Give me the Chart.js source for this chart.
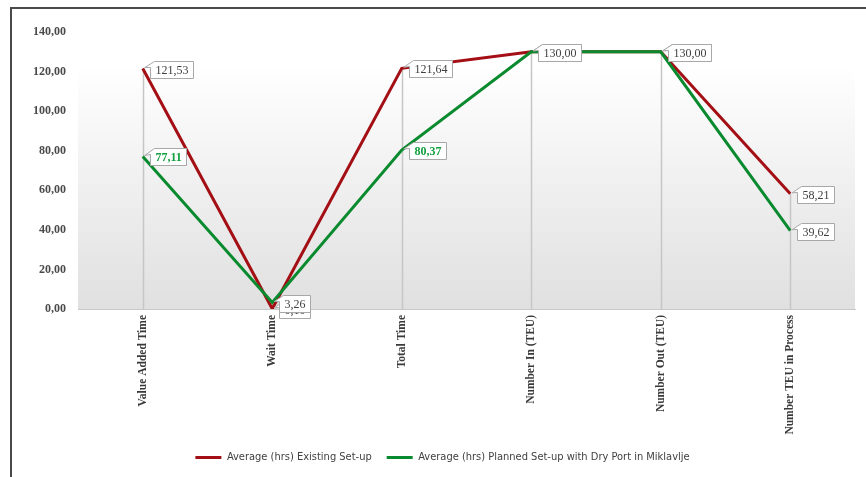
<!DOCTYPE html>
<html>
<head>
<meta charset="utf-8">
<script src="https://cdn.jsdelivr.net/npm/chart.js@4/dist/chart.umd.min.js"></script>
<style>
  html, body { margin: 0; padding: 0; background: #ffffff; }
  #wrap { width: 866px; height: 477px; position: relative; }
</style>
</head>
<body>
<div id="wrap"><canvas id="c" width="866" height="477"></canvas></div>
<script>
// ---- data ----
const categories = ['Value Added Time', 'Wait Time', 'Total Time', 'Number In (TEU)', 'Number Out (TEU)', 'Number TEU in Process'];
const existingSetup = [121.53, 0.10, 121.64, 130.00, 130.00, 58.21];
const plannedSetup = [77.11, 3.26, 80.37, 130.00, 130.00, 39.62];
const seriesNames = ['Average (hrs) Existing Set-up', 'Average (hrs) Planned Set-up with Dry Port in Miklavlje'];
const yTickLabels = ['0,00', '20,00', '40,00', '60,00', '80,00', '100,00', '120,00', '140,00'];
// style: which planned labels are emphasised (green bold)
const plannedLabelEmphasis = [true, false, true, false, false, false];

const RED = '#a30f14';
const GREEN = '#0a8a2e';
const fmt = v => v.toFixed(2).replace('.', ',');

const framePlugin = {
  id: 'frame',
  beforeDraw(chart) {
    const ctx = chart.ctx;
    const a = chart.chartArea;
    const y = chart.scales.y;
    ctx.save();
    const top = y.getPixelForValue(124);
    const bottom = y.getPixelForValue(0);
    const g = ctx.createLinearGradient(0, top, 0, bottom);
    g.addColorStop(0, '#ffffff');
    g.addColorStop(1, '#e0e0e0');
    ctx.fillStyle = g;
    ctx.fillRect(a.left, top, a.right - a.left, bottom - top);
    ctx.strokeStyle = '#4a4a4a';
    ctx.lineWidth = 2;
    ctx.beginPath();
    ctx.moveTo(11, 477);
    ctx.lineTo(11, 8);
    ctx.lineTo(866, 8);
    ctx.stroke();
    ctx.restore();
  },
  beforeDatasetsDraw(chart) {
    const ctx = chart.ctx;
    const xs = chart.scales.x, ys = chart.scales.y;
    ctx.save();
    ctx.strokeStyle = '#c6c6c6';
    ctx.lineWidth = 1.5;
    categories.forEach((c, i) => {
      const x = Math.round(xs.getPixelForValue(i)) + 0.5;
      const t = ys.getPixelForValue(Math.max(existingSetup[i], plannedSetup[i]));
      const b = ys.getPixelForValue(0);
      ctx.beginPath();
      ctx.moveTo(x, t);
      ctx.lineTo(x, b);
      ctx.stroke();
    });
    ctx.restore();
  },
  afterDatasetsDraw(chart) {
    const ctx = chart.ctx;
    ctx.save();
    [0, 1].forEach(di => {
      const meta = chart.getDatasetMeta(di);
      const vals = chart.data.datasets[di].data;
      meta.data.forEach((pt, i) => {
        const emph = di === 1 && plannedLabelEmphasis[i];
        const text = fmt(vals[i]);
        ctx.font = (emph ? 'bold ' : '') + '12px "Liberation Serif", serif';
        const tw = ctx.measureText(text).width;
        const w = Math.round(tw + 10), h = 17;
        const bx = Math.round(pt.x + 7) + 0.5;
        const by = Math.round(pt.y - 8) + 0.5;
        ctx.beginPath();
        ctx.moveTo(bx + 4, by);
        ctx.lineTo(bx + w, by);
        ctx.lineTo(bx + w, by + h);
        ctx.lineTo(bx, by + h);
        ctx.lineTo(bx, by + 6);
        ctx.lineTo(pt.x + 2, pt.y - 1);
        ctx.lineTo(bx + 4, by);
        ctx.closePath();
        ctx.fillStyle = '#ffffff';
        ctx.fill();
        ctx.strokeStyle = '#a8a8a8';
        ctx.lineWidth = 1;
        ctx.stroke();
        ctx.fillStyle = emph ? '#12a03e' : '#404040';
        ctx.textBaseline = 'middle';
        ctx.textAlign = 'left';
        ctx.fillText(text, bx + 5, by + h / 2 + 0.5);
      });
    });
    ctx.restore();
  }
};

new Chart(document.getElementById('c'), {
  type: 'line',
  data: {
    labels: categories,
    datasets: [
      { label: seriesNames[0], data: existingSetup, borderColor: RED, backgroundColor: RED,
        borderWidth: 3, pointRadius: 0, tension: 0, order: 1 },
      { label: seriesNames[1], data: plannedSetup, borderColor: GREEN, backgroundColor: GREEN,
        borderWidth: 3, pointRadius: 0, tension: 0, order: 0 }
    ]
  },
  options: {
    responsive: false,
    animation: false,
    devicePixelRatio: 1,
    layout: { padding: { left: 30, right: 11, top: 32, bottom: 4 } },
    plugins: {
      tooltip: { enabled: false },
      legend: {
        position: 'bottom',
        labels: {
          boxWidth: 26,
          boxHeight: 3,
          padding: 15,
          color: '#404040',
          font: { family: '"Liberation Sans Narrow", "DejaVu Sans Condensed", sans-serif', size: 11 },
          sort: (a, b) => a.datasetIndex - b.datasetIndex,
          generateLabels: (chart) => chart.data.datasets.map((d, i) => ({
            text: d.label, fillStyle: d.borderColor, strokeStyle: d.borderColor,
            lineWidth: 0, hidden: false, datasetIndex: i, fontColor: '#404040'
          }))
        }
      }
    },
    scales: {
      x: {
        offset: true,
        grid: { display: false, drawTicks: false },
        border: { display: true, color: '#c8c8c8', width: 1 },
        ticks: {
          autoSkip: false, minRotation: 90, maxRotation: 90, padding: 6,
          color: '#3a3a3a',
          font: { family: '"Liberation Serif", serif', size: 11.5, weight: 'bold' }
        },
        afterFit: (s) => { s.height = 128; }
      },
      y: {
        min: 0, max: 140,
        grid: { display: false, drawTicks: false },
        border: { display: false },
        ticks: {
          stepSize: 20, padding: 12,
          color: '#4a4a4a',
          font: { family: '"Liberation Serif", serif', size: 12, weight: 'bold' },
          callback: (v, i) => yTickLabels[i]
        },
        afterFit: (s) => { s.width = 48; }
      }
    }
  },
  plugins: [framePlugin]
});
</script>
</body>
</html>
